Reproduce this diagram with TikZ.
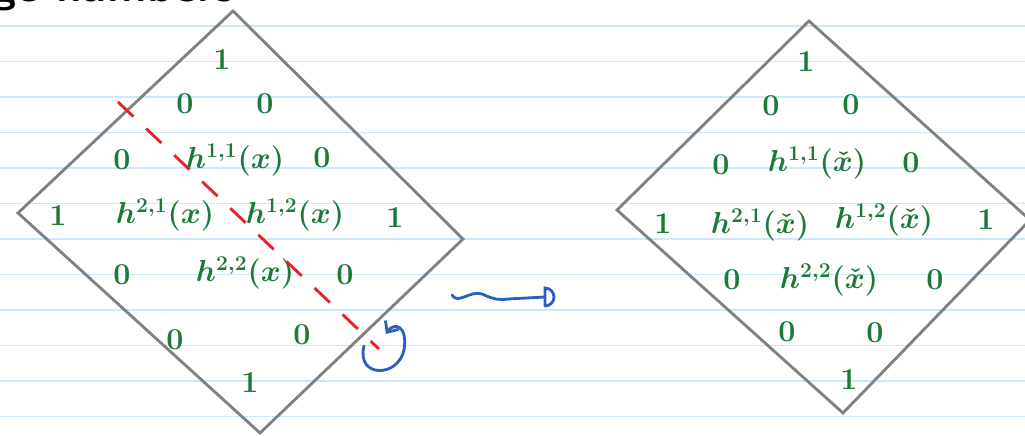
\documentclass[tikz,border=0pt]{standalone}
\usepackage{amsmath,amssymb,amsfonts}
\usepackage{xcolor}
\usepackage{tikz}
\usetikzlibrary{arrows.meta,positioning}

\definecolor{penGreen}{RGB}{27,122,58}
\definecolor{penBlue}{RGB}{43,95,190}
\definecolor{penRed}{RGB}{232,30,40}
\definecolor{paperLine}{RGB}{205,232,248}
\definecolor{frameGray}{RGB}{128,128,128}

\begin{document}
\begin{tikzpicture}[
      x=0.02cm, y=-0.02cm,
      hn/.style={text=penGreen, font=\LARGE\boldmath, inner sep=1pt},
      frame/.style={draw=frameGray, line width=1.6pt},
      pen/.style={penBlue, line width=1.6pt, line cap=round},
      >=Stealth
    ]
    \useasboundingbox (0,0) rectangle (1025,436);
    \fill[white] (0,0) rectangle (1025,436);
    \foreach \k in {0,...,11}
      \draw[paperLine, line width=0.8pt] (0,{26+35.5*\k}) -- (1025,{26+35.5*\k});

    \node[font=\fontsize{26}{28}\selectfont\sffamily\bfseries, anchor=base east] (title) at (240,2) {Hodge numbers};

    % diamond of X
    \coordinate (LT) at (233,11);
    \coordinate (LL) at (18,213);
    \coordinate (LB) at (260,433);
    \coordinate (LR) at (463,239);
    \draw[frame] (LT) -- (LL) -- (LB) -- (LR) -- cycle;

    \node[hn] (lA) at (222,60) {$1$};
    \node[hn] (lB1) at (185,104) {$0$};
    \node[hn] (lB2) at (265,104) {$0$};
    \node[hn] (lC1) at (122,160) {$0$};
    \node[hn] (lC2) at (235,160) {$h^{1,1}(x)$};
    \node[hn] (lC3) at (322,158) {$0$};
    \node[hn] (lD1) at (58,216) {$1$};
    \node[hn] (lD2) at (165,215) {$h^{2,1}(x)$};
    \node[hn] (lD3) at (295,215) {$h^{1,2}(x)$};
    \node[hn] (lD4) at (395,218) {$1$};
    \node[hn] (lE1) at (122,275) {$0$};
    \node[hn] (lE2) at (245,273) {$h^{2,2}(x)$};
    \node[hn] (lE3) at (345,275) {$0$};
    \node[hn] (lF1) at (175,340) {$0$};
    \node[hn] (lF2) at (302,335) {$0$};
    \node[hn] (lG) at (250,383) {$1$};

    % the cut and the flip
    \coordinate (cutA) at (118,102);
    \coordinate (cutB) at (379,349);
    \draw[penRed, line width=1.6pt, dash pattern=on 12pt off 10pt] (cutA) -- (cutB);

    \coordinate (curlA) at (364,346);
    \coordinate (curlB) at (386,334);
    \draw[pen, -{Straight Barb[length=5pt,width=9pt]}] (curlA) .. controls (356,378) and (398,378) .. (404,350)
      .. controls (408,325) and (394,322) .. (curlB);

    \coordinate (wavA) at (452,295);
    \coordinate (wavB) at (545,297);
    \draw[pen] (wavA) .. controls (458,305) and (470,290) .. (482,294)
      .. controls (495,300) and (500,300) .. (508,299) -- (wavB);
    \draw[pen] (wavB) ++(0,9) -- ++(0,-18) arc[start angle=90, end angle=-90, radius=0.18cm];

    % diamond of the mirror
    \coordinate (RT) at (809,21);
    \coordinate (RL) at (617,210);
    \coordinate (RB) at (843,413);
    \coordinate (RR) at (1030,220);
    \draw[frame] (RT) -- (RL) -- (RB) -- (RR) -- cycle;

    \node[hn] (rA) at (806,62) {$1$};
    \node[hn] (rB1) at (771,106) {$0$};
    \node[hn] (rB2) at (851,105) {$0$};
    \node[hn] (rC1) at (721,165) {$0$};
    \node[hn] (rC2) at (817,163) {$h^{1,1}(\check{x})$};
    \node[hn] (rC3) at (911,163) {$0$};
    \node[hn] (rD1) at (663,224) {$1$};
    \node[hn] (rD2) at (760,225) {$h^{2,1}(\check{x})$};
    \node[hn] (rD3) at (884,220) {$h^{1,2}(\check{x})$};
    \node[hn] (rD4) at (986,220) {$1$};
    \node[hn] (rE1) at (732,280) {$0$};
    \node[hn] (rE2) at (829,280) {$h^{2,2}(\check{x})$};
    \node[hn] (rE3) at (935,280) {$0$};
    \node[hn] (rF1) at (787,332) {$0$};
    \node[hn] (rF2) at (875,333) {$0$};
    \node[hn] (rG) at (849,380) {$1$};
  \end{tikzpicture}
\end{document}
